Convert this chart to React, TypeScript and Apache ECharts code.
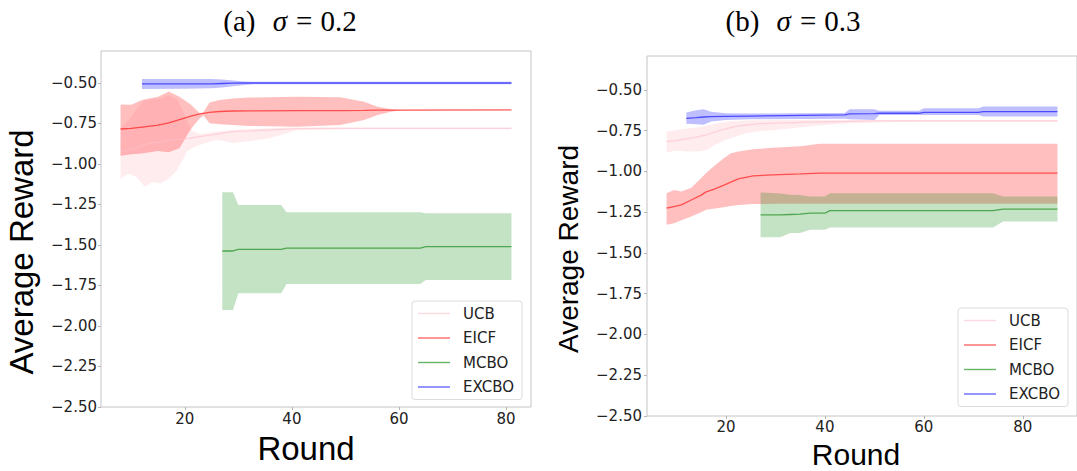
import React, { useEffect, useRef } from "react";
import * as echarts from "echarts";

// ---------- shared ----------
const METHODS = ["UCB", "EICF", "MCBO", "EXCBO"];
const X_TICKS = [20, 40, 60, 80];
const Y_TICKS = [-2.5, -2.25, -2.0, -1.75, -1.5, -1.25, -1.0, -0.75, -0.5];

// ---------- panel (a) sigma = 0.2 ----------
const A_UCB_ROUND = [8, 9.5, 11, 12.5, 14, 15.5, 17, 18.5, 19.5, 20.5, 21.5, 23, 26, 29, 32, 36, 39, 41, 50, 81];
const A_UCB_HI = [-0.78, -0.73, -0.66, -0.605, -0.6, -0.595, -0.575, -0.6, -0.66, -0.74, -0.8, -0.815, -0.8, -0.79, -0.785, -0.78, -0.775, -0.775, -0.775, -0.775];
const A_UCB_LO = [-1.09, -1.06, -1.08, -1.14, -1.11, -1.12, -1.09, -1.04, -0.98, -0.92, -0.9, -0.88, -0.85, -0.87, -0.86, -0.84, -0.81, -0.79, -0.785, -0.785];
const A_UCB_MEAN = [-0.93, -0.91, -0.9, -0.88, -0.87, -0.865, -0.855, -0.85, -0.847, -0.843, -0.838, -0.83, -0.815, -0.8, -0.795, -0.79, -0.785, -0.782, -0.78, -0.78];

const A_EICF_ROUND = [8, 10, 12, 15, 17, 19, 21, 22.8, 23.5, 24.6, 26.5, 29, 32, 41, 49, 53.5, 56, 58.5, 60, 81];
const A_EICF_HI = [-0.632, -0.635, -0.605, -0.585, -0.553, -0.585, -0.63, -0.687, -0.68, -0.62, -0.605, -0.595, -0.59, -0.585, -0.588, -0.615, -0.646, -0.662, -0.665, -0.665];
const A_EICF_LO = [-0.949, -0.94, -0.935, -0.92, -0.928, -0.903, -0.79, -0.718, -0.7, -0.749, -0.755, -0.76, -0.765, -0.77, -0.759, -0.728, -0.698, -0.677, -0.67, -0.668];
const A_EICF_MEAN = [-0.784, -0.78, -0.772, -0.76, -0.746, -0.726, -0.706, -0.691, -0.687, -0.681, -0.676, -0.673, -0.672, -0.671, -0.67, -0.669, -0.668, -0.667, -0.667, -0.666];

const A_MCBO_ROUND = [27, 29, 30, 38, 39, 64, 65, 81];
const A_MCBO_HI = [-1.175, -1.175, -1.253, -1.253, -1.298, -1.298, -1.304, -1.304];
const A_MCBO_LO = [-1.901, -1.901, -1.798, -1.798, -1.741, -1.741, -1.716, -1.716];
const A_MCBO_MEAN = [-1.537, -1.537, -1.527, -1.527, -1.519, -1.519, -1.51, -1.51];

const A_EXCBO_ROUND = [12, 20, 25, 27, 29, 31, 33, 81];
const A_EXCBO_HI = [-0.475, -0.475, -0.475, -0.478, -0.485, -0.49, -0.492, -0.492];
const A_EXCBO_LO = [-0.537, -0.535, -0.533, -0.528, -0.52, -0.512, -0.508, -0.508];
const A_EXCBO_MEAN = [-0.506, -0.506, -0.505, -0.503, -0.501, -0.5, -0.5, -0.5];

// ---------- panel (b) sigma = 0.3 ----------
const B_UCB_ROUND = [8, 10, 12, 14, 16, 18, 20, 22, 24, 27, 30, 36, 43, 51, 60, 87];
const B_UCB_HI = [-0.755, -0.745, -0.738, -0.73, -0.72, -0.705, -0.695, -0.69, -0.688, -0.686, -0.685, -0.684, -0.684, -0.684, -0.684, -0.684];
const B_UCB_LO = [-0.884, -0.872, -0.878, -0.878, -0.872, -0.835, -0.805, -0.785, -0.765, -0.752, -0.745, -0.725, -0.708, -0.698, -0.695, -0.695];
const B_UCB_MEAN = [-0.817, -0.81, -0.8, -0.79, -0.776, -0.755, -0.738, -0.724, -0.715, -0.707, -0.703, -0.698, -0.694, -0.69, -0.69, -0.69];

const B_EICF_ROUND = [8, 9.5, 11, 13, 15, 16, 17.5, 19.5, 21, 22.5, 25.5, 29.5, 35, 39, 87];
const B_EICF_HI = [-1.133, -1.113, -1.123, -1.1, -1.04, -1.01, -0.97, -0.92, -0.888, -0.878, -0.863, -0.855, -0.845, -0.83, -0.83];
const B_EICF_LO = [-1.327, -1.317, -1.3, -1.276, -1.25, -1.235, -1.228, -1.219, -1.212, -1.205, -1.2, -1.198, -1.198, -1.198, -1.198];
const B_EICF_MEAN = [-1.225, -1.215, -1.205, -1.175, -1.145, -1.125, -1.11, -1.085, -1.065, -1.045, -1.027, -1.021, -1.015, -1.01, -1.01];

const B_MCBO_ROUND = [27, 31, 33, 35, 37, 40, 41, 74, 76, 87];
const B_MCBO_HI = [-1.129, -1.135, -1.143, -1.145, -1.153, -1.153, -1.133, -1.133, -1.153, -1.153];
const B_MCBO_LO = [-1.403, -1.403, -1.378, -1.378, -1.358, -1.358, -1.343, -1.343, -1.307, -1.307];
const B_MCBO_MEAN = [-1.266, -1.266, -1.264, -1.262, -1.256, -1.256, -1.24, -1.24, -1.231, -1.231];

const B_EXCBO_ROUND = [12, 14, 15.5, 17, 20, 25, 44, 45, 50, 51, 59, 60, 71, 72, 87];
const B_EXCBO_HI = [-0.639, -0.625, -0.618, -0.633, -0.643, -0.645, -0.642, -0.618, -0.618, -0.627, -0.627, -0.612, -0.612, -0.602, -0.602];
const B_EXCBO_LO = [-0.708, -0.71, -0.714, -0.694, -0.684, -0.68, -0.676, -0.68, -0.684, -0.653, -0.653, -0.653, -0.653, -0.663, -0.663];
const B_EXCBO_MEAN = [-0.674, -0.67, -0.666, -0.664, -0.662, -0.66, -0.653, -0.647, -0.645, -0.643, -0.643, -0.637, -0.637, -0.633, -0.633];

// ---------- styles ----------
const LINE_COLORS: Record<string, string> = {
  UCB: "rgba(255,192,203,0.6)",
  EICF: "rgba(255,0,0,0.6)",
  MCBO: "rgba(0,128,0,0.6)",
  EXCBO: "rgba(0,0,255,0.6)",
};
const FILL_COLORS: Record<string, string> = {
  UCB: "rgba(255,192,203,0.3)",
  EICF: "rgba(255,0,0,0.25)",
  MCBO: "rgba(0,128,0,0.23)",
  EXCBO: "rgba(0,0,255,0.25)",
};

type Band = { name: string; x: number[]; hi: number[]; lo: number[]; mean: number[] };

const PANEL_A: Band[] = [
  { name: "UCB", x: A_UCB_ROUND, hi: A_UCB_HI, lo: A_UCB_LO, mean: A_UCB_MEAN },
  { name: "EICF", x: A_EICF_ROUND, hi: A_EICF_HI, lo: A_EICF_LO, mean: A_EICF_MEAN },
  { name: "MCBO", x: A_MCBO_ROUND, hi: A_MCBO_HI, lo: A_MCBO_LO, mean: A_MCBO_MEAN },
  { name: "EXCBO", x: A_EXCBO_ROUND, hi: A_EXCBO_HI, lo: A_EXCBO_LO, mean: A_EXCBO_MEAN },
];
const PANEL_B: Band[] = [
  { name: "UCB", x: B_UCB_ROUND, hi: B_UCB_HI, lo: B_UCB_LO, mean: B_UCB_MEAN },
  { name: "EICF", x: B_EICF_ROUND, hi: B_EICF_HI, lo: B_EICF_LO, mean: B_EICF_MEAN },
  { name: "MCBO", x: B_MCBO_ROUND, hi: B_MCBO_HI, lo: B_MCBO_LO, mean: B_MCBO_MEAN },
  { name: "EXCBO", x: B_EXCBO_ROUND, hi: B_EXCBO_HI, lo: B_EXCBO_LO, mean: B_EXCBO_MEAN },
];

const TICK_FONT = "DejaVu Sans";
const LEGEND_ICON = "path://M0,0 L32,0 L32,1.4 L0,1.4 Z";
const fmtY = (v: number) => (v < 0 ? "\u2212" : "") + Math.abs(v).toFixed(2);

function bandSeries(b: Band, gi: number) {
  const pts = b.x.map((x, i) => [x, b.lo[i], b.hi[i]]);
  const fill = FILL_COLORS[b.name];
  return {
    type: "custom",
    name: b.name + " band " + gi,
    xAxisIndex: gi,
    yAxisIndex: gi,
    silent: true,
    data: pts,
    encode: { x: 0, y: [1, 2] },
    renderItem: (params: any, api: any) => {
      if (params.dataIndex !== 0) return null;
      const upper = pts.map((p) => api.coord([p[0], p[2]]));
      const lower = pts.map((p) => api.coord([p[0], p[1]])).reverse();
      return {
        type: "polygon",
        shape: { points: upper.concat(lower) },
        style: { fill },
      };
    },
  };
}

function lineSeries(b: Band, gi: number) {
  const c = LINE_COLORS[b.name];
  return {
    type: "line",
    name: b.name,
    xAxisIndex: gi,
    yAxisIndex: gi,
    data: b.x.map((x, i) => [x, b.mean[i]]),
    symbol: "none",
    showSymbol: false,
    silent: true,
    lineStyle: { color: c, width: 1.3 },
    itemStyle: { color: c },
  };
}

function xAxis(gi: number, min: number, max: number, margin: number) {
  return {
    type: "value",
    gridIndex: gi,
    min,
    max,
    axisLine: { show: false },
    splitLine: { show: false },
    axisTick: { show: true, length: 3, lineStyle: { color: "#b5b5b5" }, customValues: X_TICKS },
    axisLabel: {
      customValues: X_TICKS,
      margin,
      fontFamily: TICK_FONT,
      fontSize: 15,
      color: "#222",
      formatter: (v: number) => String(Math.round(v)),
    },
  };
}

function yAxis(gi: number, max: number, margin: number) {
  return {
    type: "value",
    gridIndex: gi,
    min: -2.5,
    max,
    axisLine: { show: false },
    splitLine: { show: false },
    axisTick: { show: true, length: 3, lineStyle: { color: "#b5b5b5" }, customValues: Y_TICKS },
    axisLabel: {
      customValues: Y_TICKS,
      margin,
      fontFamily: TICK_FONT,
      fontSize: 15,
      color: "#222",
      formatter: fmtY,
    },
  };
}

function legend(left: number, top: number) {
  return {
    data: METHODS.map((name) => ({ name, icon: LEGEND_ICON })),
    orient: "vertical",
    left,
    top,
    itemWidth: 32,
    itemHeight: 14,
    itemGap: 9.5,
    symbolKeepAspect: true,
    padding: [5, 8, 5, 6],
    backgroundColor: "rgba(255,255,255,0.8)",
    borderColor: "#dcdcdc",
    borderWidth: 1,
    borderRadius: 3,
    selectedMode: false,
    textStyle: {
      fontFamily: TICK_FONT,
      fontSize: 15,
      color: "#222",
      lineHeight: 14,
      padding: [0, 0, 0, 8],
    },
  };
}

function titleText(x: number, label: string, val: string) {
  return {
    type: "text",
    x,
    y: 21,
    style: {
      text: `{p|${label}}{s|\u03c3}{e|=}{p|${val}}`,
      align: "center",
      verticalAlign: "middle",
      fill: "#000",
      rich: {
        p: { fontFamily: "Liberation Serif", fontSize: 29, fill: "#000" },
        s: { fontFamily: "Liberation Serif", fontStyle: "italic", fontSize: 29, fill: "#000", padding: [0, 9, 0, 10] },
        e: { fontFamily: "Liberation Serif", fontSize: 29, fill: "#000", padding: [0, 8, 0, 0] },
      },
    },
  };
}

function nameText(x: number, y: number, text: string, size: number, rot: number) {
  return {
    type: "text",
    x,
    y,
    rotation: rot,
    style: {
      text,
      align: "center",
      verticalAlign: "middle",
      fontFamily: "Liberation Sans",
      fontSize: size,
      fill: "#000",
    },
  };
}

export default function App() {
  const ref = useRef<HTMLDivElement>(null);
  useEffect(() => {
    if (!ref.current) return;
    const chart = echarts.init(ref.current, undefined, { renderer: "svg" });
    const series: any[] = [];
    PANEL_A.forEach((b) => series.push(bandSeries(b, 0)));
    PANEL_A.forEach((b) => series.push(lineSeries(b, 0)));
    PANEL_B.forEach((b) => series.push(bandSeries(b, 1)));
    PANEL_B.forEach((b) => series.push(lineSeries(b, 1)));
    chart.setOption({
      animation: false,
      backgroundColor: "#ffffff",
      grid: [
        { left: 101, top: 51, width: 430, height: 356, show: true, borderColor: "#c4c4c4", borderWidth: 1, backgroundColor: "transparent" },
        { left: 647, top: 56, width: 433, height: 360, show: true, borderColor: "#c4c4c4", borderWidth: 1, backgroundColor: "transparent" },
      ],
      xAxis: [xAxis(0, 4.35, 84.65, 4), xAxis(1, 4.05, 90.95, 3)],
      yAxis: [yAxis(0, -0.3025, 4), yAxis(1, -0.2917, 5)],
      legend: [legend(412, 301), legend(958, 308)],
      graphic: [
        titleText(290, "(a) ", "0.2"),
        titleText(793, "(b) ", "0.3"),
        nameText(21, 252, "Average Reward", 33, Math.PI / 2),
        nameText(568, 249, "Average Reward", 28, Math.PI / 2),
        nameText(306, 448, "Round", 33, 0),
        nameText(856, 454, "Round", 30, 0),
      ],
      series,
    });
    return () => chart.dispose();
  }, []);
  return (
    <div
      ref={ref}
      style={{ position: "absolute", left: 0, top: 0, width: 1077, height: 471, background: "#fff" }}
    />
  );
}
